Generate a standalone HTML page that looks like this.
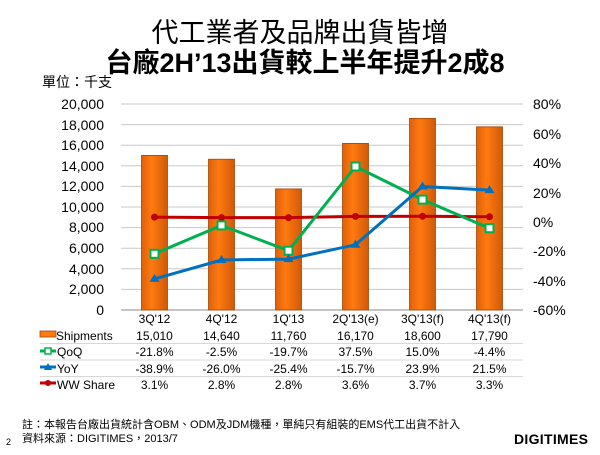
<!DOCTYPE html>
<html><head><meta charset="utf-8"><style>
body{margin:0;background:#fff;width:600px;height:450px;overflow:hidden}
svg text{font-family:"Liberation Sans","Noto Sans CJK TC",sans-serif}
</style></head><body>
<svg width="600" height="450" viewBox="0 0 600 450" xmlns="http://www.w3.org/2000/svg">
<defs><linearGradient id="bg" x1="0" x2="1"><stop offset="0" stop-color="#e0600a"/><stop offset="0.4" stop-color="#ff7a10"/><stop offset="1" stop-color="#d05a08"/></linearGradient></defs>
<text x="300" y="42" font-size="27" text-anchor="middle" fill="#000">代工業者及品牌出貨皆增</text>
<text x="305" y="72" font-size="27" font-weight="bold" text-anchor="middle" fill="#000">台廠2H’13出貨較上半年提升2成8</text>
<text x="42" y="87" font-size="14">單位：千支</text>
<g stroke="#c8c8c8" stroke-width="1">
<line x1="121" x2="523" y1="104" y2="104"/><line x1="121" x2="523" y1="124.6" y2="124.6"/><line x1="121" x2="523" y1="145.2" y2="145.2"/><line x1="121" x2="523" y1="165.8" y2="165.8"/><line x1="121" x2="523" y1="186.4" y2="186.4"/><line x1="121" x2="523" y1="207" y2="207"/><line x1="121" x2="523" y1="227.6" y2="227.6"/><line x1="121" x2="523" y1="248.2" y2="248.2"/><line x1="121" x2="523" y1="268.8" y2="268.8"/><line x1="121" x2="523" y1="289.4" y2="289.4"/></g>
<line x1="121" x2="523" y1="310" y2="310" stroke="#888"/>
<g font-size="14" text-anchor="end">
<text x="104" y="109">20,000</text><text x="104" y="130">18,000</text><text x="104" y="150">16,000</text><text x="104" y="171">14,000</text><text x="104" y="191">12,000</text><text x="104" y="212">10,000</text><text x="104" y="232">8,000</text><text x="104" y="253">6,000</text><text x="104" y="274">4,000</text><text x="104" y="294">2,000</text><text x="104" y="315">0</text></g>
<g font-size="14" text-anchor="start">
<text x="533" y="109">80%</text><text x="533" y="139">60%</text><text x="533" y="168">40%</text><text x="533" y="198">20%</text><text x="533" y="227">0%</text><text x="533" y="256">-20%</text><text x="533" y="286">-40%</text><text x="533" y="315">-60%</text></g>
<g fill="url(#bg)" stroke="#a04808" stroke-width="0.8">
<rect x="141.5" y="155.4" width="26" height="154.6"/>
<rect x="208.5" y="159.2" width="26" height="150.8"/>
<rect x="275.5" y="188.9" width="26" height="121.1"/>
<rect x="342.5" y="143.4" width="26" height="166.6"/>
<rect x="409.5" y="118.4" width="26" height="191.6"/>
<rect x="476.5" y="126.8" width="26" height="183.2"/></g>
<polyline fill="none" stroke="#c00000" stroke-width="3" points="154.5,217.1 221.5,217.6 288.5,217.6 355.5,216.4 422.5,216.3 489.5,216.8"/>
<g fill="#c00000"><circle cx="154.5" cy="217.1" r="3.5"/><circle cx="221.5" cy="217.6" r="3.5"/><circle cx="288.5" cy="217.6" r="3.5"/><circle cx="355.5" cy="216.4" r="3.5"/><circle cx="422.5" cy="216.3" r="3.5"/><circle cx="489.5" cy="216.8" r="3.5"/></g>
<polyline fill="none" stroke="#00b050" stroke-width="3" points="154.5,253.8 221.5,225.4 288.5,250.7 355.5,166.5 422.5,199.6 489.5,228.2"/>
<g fill="#fff" stroke="#00b050" stroke-width="2"><rect x="150.5" y="249.8" width="8" height="8"/><rect x="217.5" y="221.4" width="8" height="8"/><rect x="284.5" y="246.7" width="8" height="8"/><rect x="351.5" y="162.5" width="8" height="8"/><rect x="418.5" y="195.6" width="8" height="8"/><rect x="485.5" y="224.2" width="8" height="8"/></g>
<polyline fill="none" stroke="#0070c0" stroke-width="3" points="154.5,278.9 221.5,260 288.5,259.1 355.5,244.8 422.5,186.5 489.5,190.1"/>
<g fill="#0070c0"><path d="M154.5 273.9l5 8h-10z"/><path d="M221.5 255l5 8h-10z"/><path d="M288.5 254.1l5 8h-10z"/><path d="M355.5 239.8l5 8h-10z"/><path d="M422.5 181.5l5 8h-10z"/><path d="M489.5 185.1l5 8h-10z"/></g>
<g font-size="12" text-anchor="middle">
<text x="154.5" y="323">3Q'12</text><text x="221.5" y="323">4Q'12</text><text x="288.5" y="323">1Q'13</text><text x="355.5" y="323">2Q'13(e)</text><text x="422.5" y="323">3Q'13(f)</text><text x="489.5" y="323">4Q'13(f)</text>
<text x="154.5" y="340">15,010</text><text x="221.5" y="340">14,640</text><text x="288.5" y="340">11,760</text><text x="355.5" y="340">16,170</text><text x="422.5" y="340">18,600</text><text x="489.5" y="340">17,790</text>
<text x="154.5" y="356">-21.8%</text><text x="221.5" y="356">-2.5%</text><text x="288.5" y="356">-19.7%</text><text x="355.5" y="356">37.5%</text><text x="422.5" y="356">15.0%</text><text x="489.5" y="356">-4.4%</text>
<text x="154.5" y="373">-38.9%</text><text x="221.5" y="373">-26.0%</text><text x="288.5" y="373">-25.4%</text><text x="355.5" y="373">-15.7%</text><text x="422.5" y="373">23.9%</text><text x="489.5" y="373">21.5%</text>
<text x="154.5" y="389">3.1%</text><text x="221.5" y="389">2.8%</text><text x="288.5" y="389">2.8%</text><text x="355.5" y="389">3.6%</text><text x="422.5" y="389">3.7%</text><text x="489.5" y="389">3.3%</text></g>
<g stroke="#d8d8d8"><line x1="40" x2="523" y1="343.5" y2="343.5"/><line x1="40" x2="523" y1="360" y2="360"/><line x1="40" x2="523" y1="376.5" y2="376.5"/></g>
<g font-size="12">
<rect x="40" y="331" width="16" height="6" fill="#ff7a10" stroke="#a04808" stroke-width="0.8"/><text x="56" y="340">Shipments</text>
<line x1="40" x2="56" y1="351" y2="351" stroke="#00b050" stroke-width="3"/><rect x="45" y="348" width="6" height="6" fill="#fff" stroke="#00b050" stroke-width="1.5"/><text x="57" y="356">QoQ</text>
<line x1="40" x2="56" y1="367" y2="367" stroke="#0070c0" stroke-width="3"/><path d="M48 363l4 7h-8z" fill="#0070c0"/><text x="57" y="373">YoY</text>
<line x1="40" x2="56" y1="383" y2="383" stroke="#c00000" stroke-width="3"/><circle cx="48" cy="383" r="3" fill="#c00000"/><text x="57" y="389">WW Share</text></g>
<text x="22" y="428" font-size="11">註：本報告台廠出貨統計含OBM、ODM及JDM機種，單純只有組裝的EMS代工出貨不計入</text>
<text x="22" y="442" font-size="11">資料來源：DIGITIMES，2013/7</text>
<text x="6" y="445" font-size="9">2</text>
<text x="514" y="444" font-size="14" font-weight="bold" letter-spacing="0.3">DIGITIMES</text>
</svg>
</body></html>
